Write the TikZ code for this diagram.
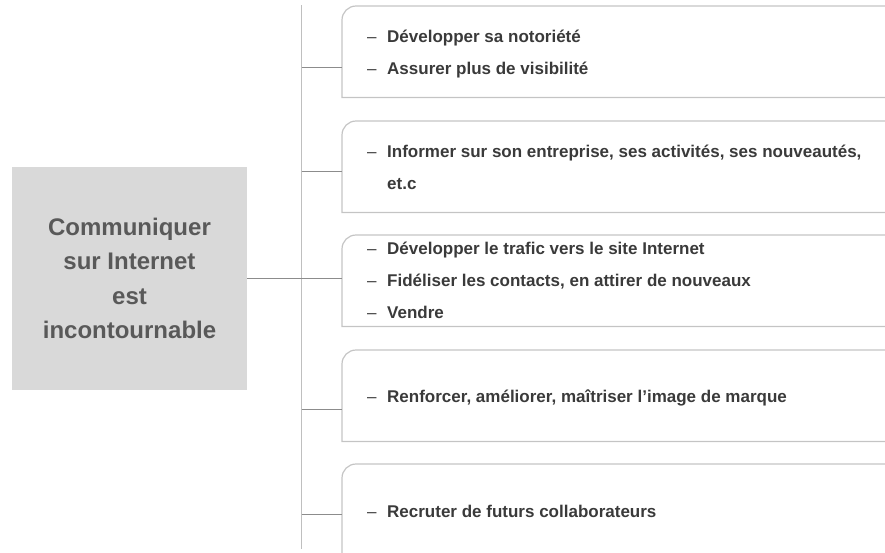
\documentclass[tikz,border=0pt]{standalone}
\usepackage{fontspec}
\setmainfont{Liberation Sans}
\definecolor{hubfill}{HTML}{D9D9D9}
\definecolor{hubtext}{HTML}{595959}
\definecolor{itemtext}{HTML}{3A3A3A}
\definecolor{trunkcol}{HTML}{BFBFBF}
\definecolor{conncol}{HTML}{8C8C8C}
\definecolor{boxcol}{HTML}{C4C4C4}
\newcommand{\itemdash}{\makebox[20pt][l]{\mdseries –}}
\begin{document}
\begin{tikzpicture}[x=1pt,y=-1pt,
  hub/.style={rectangle, fill=hubfill, text=hubtext, minimum width=235pt, minimum height=223pt,
    inner sep=0pt, align=center, font=\fontsize{24}{34.6}\selectfont\bfseries},
  boxnode/.style={rectangle, draw=none, minimum width=543pt, minimum height=91pt, inner sep=0pt, anchor=north west},
  boxline/.style={draw=boxcol, line width=1.2pt},
  item/.style={anchor=base west, inner sep=0pt, text=itemtext, font=\fontsize{17}{20}\selectfont\bfseries},
  trunk/.style={draw=trunkcol, line width=1pt},
  conn/.style={draw=conncol, line width=1pt}]
\useasboundingbox (0,0) rectangle (885,552);

\node[hub] (hub) at (129.5,278.5) {Communiquer\\sur Internet\\est\\incontournable};

\node[boxnode] (b1) at (342,6) {};
\node[boxnode] (b2) at (342,121) {};
\node[boxnode] (b3) at (342,235) {};
\node[boxnode] (b4) at (342,350) {};
\node[boxnode] (b5) at (342,464) {};

\foreach \b in {b1,b2,b3,b4,b5}{
  \draw[boxline] (\b.north east) -- ([xshift=14pt]\b.north west)
    arc[start angle=90, end angle=180, radius=14pt] -- (\b.south west) -- (\b.south east);
}

\node[item] (t1a) at (367,42) {\itemdash Développer sa notoriété};
\node[item] (t1b) at (367,74) {\itemdash Assurer plus de visibilité};
\node[item] (t2a) at (367,157) {\itemdash Informer sur son entreprise, ses activités, ses nouveautés,};
\node[item] (t2b) at (387,189) {et.c};
\node[item] (t3a) at (367,254) {\itemdash Développer le trafic vers le site Internet};
\node[item] (t3b) at (367,286) {\itemdash Fidéliser les contacts, en attirer de nouveaux};
\node[item] (t3c) at (367,318) {\itemdash Vendre};
\node[item] (t4a) at (367,402) {\itemdash Renforcer, améliorer, maîtriser l’image de marque};
\node[item] (t5a) at (367,517) {\itemdash Recruter de futurs collaborateurs};

\coordinate (top) at (301.5,5);
\coordinate (bot) at (301.5,549);
\draw[trunk] (top) -- (bot);

\coordinate (k1) at (301.5,67);
\coordinate (k2) at (301.5,171);
\coordinate (k3) at (301.5,278);
\coordinate (k4) at (301.5,409);
\coordinate (k5) at (301.5,514);
\draw[conn] (k1) -- (k1 -| b1.west);
\draw[conn] (k2) -- (k2 -| b2.west);
\draw[conn] (k3) -- (k3 -| b3.west);
\draw[conn] (k4) -- (k4 -| b4.west);
\draw[conn] (k5) -- (k5 -| b5.west);
\draw[conn] (hub.east |- k3) -- (k3);
\end{tikzpicture}
\end{document}
